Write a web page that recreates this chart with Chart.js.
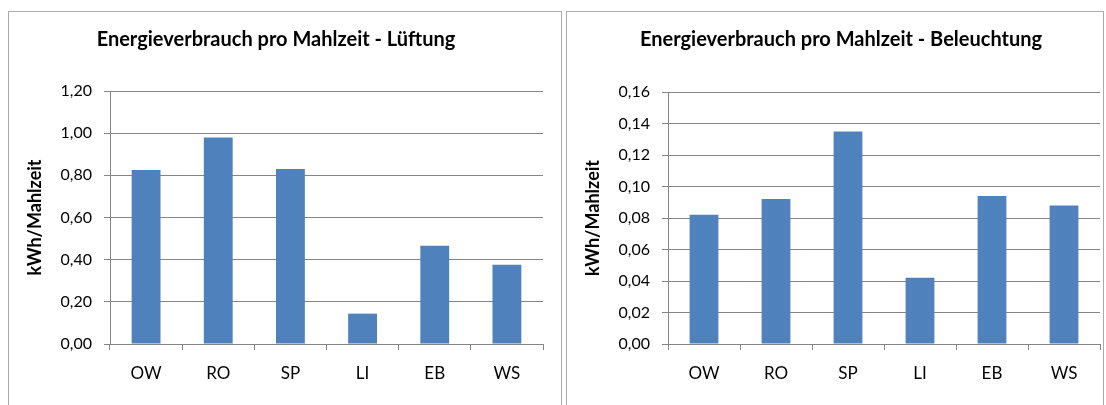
<!DOCTYPE html>
<html>
<head>
<meta charset="utf-8">
<script src="https://cdn.jsdelivr.net/npm/chart.js@4.4.0/dist/chart.umd.min.js"></script>
<style>
  html, body { margin: 0; padding: 0; background: #fff; overflow: hidden; }
  body { width: 1106px; height: 405px; position: relative; }
  .panel { position: absolute; top: 11px; height: 420px; border: 1px solid #ababab; background: #fff; }
  #p1 { left: 8px; width: 552px; }
  #p2 { left: 566px; width: 536px; }
  canvas { position: absolute; left: 0; top: 0; }
</style>
</head>
<body>
<div class="panel" id="p1"><canvas id="luftChart" width="552" height="393"></canvas></div>
<div class="panel" id="p2"><canvas id="lichtChart" width="536" height="393"></canvas></div>
<script>
const categories = ["OW", "RO", "SP", "LI", "EB", "WS"];
const lueftung = [0.825, 0.98, 0.83, 0.144, 0.466, 0.376];
const beleuchtung = [0.082, 0.092, 0.135, 0.042, 0.094, 0.088];
const lueftungTicks = { max: 1.2, step: 0.2 };
const beleuchtungTicks = { max: 0.16, step: 0.02 };

const FONT = "Lato, 'Open Sans', sans-serif";
const gridGrey = '#868686';
const barBlue = '#4F81BD';

// builds a bar chart; the layout numbers pin the plot area like the excel original
function makeChart(el, titleText, values, ticks, lay) {
    return new Chart(document.getElementById(el).getContext('2d'), {
        type: 'bar',
        data: {
            labels: categories,
            datasets: [{
                data: values,
                backgroundColor: barBlue,
                borderWidth: 0,
                barPercentage: 0.4,
                categoryPercentage: 1
            }]
        },
        options: {
            responsive: false,
            animation: false,
            layout: { padding: { left: lay.padLeft, right: lay.padRight, top: 0, bottom: 0 } },
            plugins: {
                legend: { display: false },
                tooltip: { enabled: false },
                title: {
                    display: true,
                    text: titleText,
                    color: '#000',
                    font: { family: FONT, size: 20, weight: 'bold' },
                    padding: { top: 16, bottom: lay.titleBottom }
                }
            },
            scales: {
                x: {
                    grid: { display: true, drawOnChartArea: false, offset: true, tickLength: 6, color: gridGrey },
                    border: { color: gridGrey },
                    ticks: { color: '#000', padding: 13, font: { family: FONT, size: 17 } },
                    afterFit: (s) => { s.height = 61; }
                },
                y: {
                    min: 0,
                    max: ticks.max,
                    grid: { color: gridGrey, tickLength: 6 },
                    border: { color: gridGrey },
                    ticks: {
                        stepSize: ticks.step,
                        color: '#000',
                        padding: 12,
                        font: { family: FONT, size: 16 },
                        callback: (v) => v.toFixed(2).replace('.', ',')
                    },
                    title: {
                        display: true,
                        text: 'kWh/Mahlzeit',
                        color: '#000',
                        font: { family: FONT, size: 18, weight: 'bold' },
                        padding: { top: lay.yTitlePad, bottom: 0 }
                    },
                    afterFit: (s) => { s.width = lay.yWidth; }
                }
            }
        }
    });
}

makeChart('luftChart', 'Energieverbrauch pro Mahlzeit - Lüftung', lueftung, lueftungTicks,
    { padLeft: 0, padRight: 18, yWidth: 101, yTitlePad: 15, titleBottom: 39 });
makeChart('lichtChart', 'Energieverbrauch pro Mahlzeit - Beleuchtung', beleuchtung, beleuchtungTicks,
    { padLeft: 15, padRight: 3, yWidth: 86, yTitlePad: 0, titleBottom: 40 });
</script>
</body>
</html>
